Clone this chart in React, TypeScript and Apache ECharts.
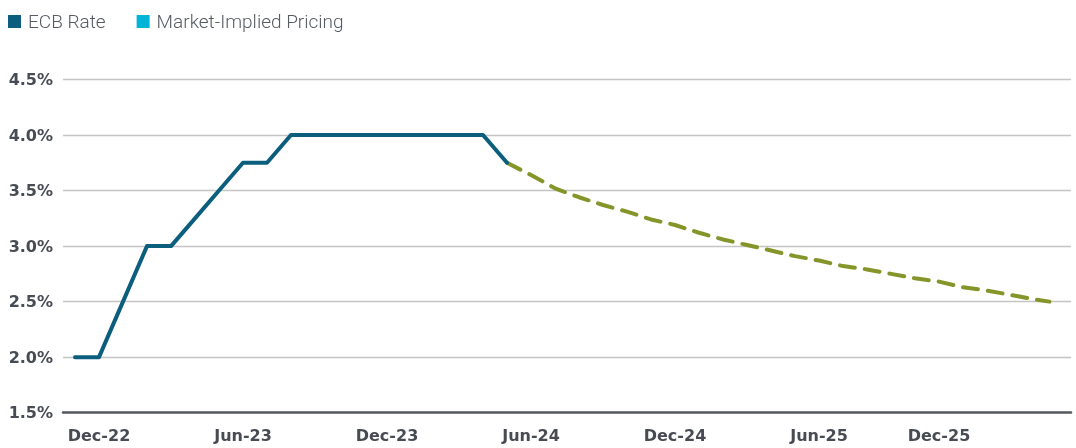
import React, { useEffect, useRef } from "react";
import * as echarts from "echarts";

// Monthly observations, Dec-22 .. Jun-24 (month index 0..18)
const ecbRate = [2.0, 2.0, 2.5, 3.0, 3.0, 3.25, 3.5, 3.75, 3.75, 4.0, 4.0, 4.0, 4.0, 4.0, 4.0, 4.0, 4.0, 4.0, 3.75];

// Market-implied path (months since Dec-22)
const forecastMonths = [18, 19, 20, 21, 22, 23, 24, 25, 26, 27, 28, 29, 30, 31, 32, 33, 34, 35, 36, 37, 38, 39, 40, 40.6];
const forecastRate = [3.75, 3.64, 3.52, 3.44, 3.37, 3.31, 3.24, 3.19, 3.12, 3.06, 3.01, 2.96, 2.91, 2.87, 2.82, 2.79, 2.75, 2.71, 2.68, 2.63, 2.6, 2.56, 2.52, 2.5];

const tickLabels = ["Dec-22", "Jun-23", "Dec-23", "Jun-24", "Dec-24", "Jun-25", "Dec-25"];
const tickMonths = [1, 7, 13, 19, 25, 31, 36];

const seriesNames = ["ECB Rate", "Market-Implied Pricing"];

export default function App() {
  const ref = useRef<HTMLDivElement>(null);
  useEffect(() => {
    if (!ref.current) return;
    const chart = echarts.init(ref.current, null, { renderer: "svg" });
    const labelStyle = {
      fontFamily: "DejaVu Sans",
      fontWeight: "bold" as const,
      fontSize: 16,
      color: "#474c54",
    };
    chart.setOption({
      animation: false,
      legend: {
        left: 8,
        top: 12,
        padding: 0,
        icon: "rect",
        itemWidth: 13,
        itemHeight: 13,
        itemGap: 31,
        textStyle: { fontFamily: "Roboto", fontWeight: 300, fontSize: 19, color: "#565b62", padding: [0, 0, 0, 2] },
        data: [
          { name: seriesNames[0], itemStyle: { color: "#0b5e7c", borderWidth: 0 } },
          { name: seriesNames[1], itemStyle: { color: "#00b4d8", borderWidth: 0 } },
        ],
      },
      grid: { left: 63, right: 5, top: 79.5, bottom: 35.3 },
      xAxis: {
        type: "value",
        min: -0.5,
        max: 41.5,
        axisLine: { show: true, onZero: false, lineStyle: { color: "#555a5f", width: 2.5 } },
        axisTick: { show: false },
        splitLine: { show: false },
        axisLabel: {
          ...labelStyle,
          margin: 15,
          customValues: tickMonths,
          formatter: (v: number) => {
            const i = tickMonths.indexOf(Math.round(v));
            return i >= 0 ? tickLabels[i] : "";
          },
        },
      },
      yAxis: {
        type: "value",
        min: 1.5,
        max: 4.5,
        interval: 0.5,
        axisLine: { show: false },
        axisTick: { show: false },
        splitLine: { lineStyle: { color: "#c4c4c4", width: 1.3 } },
        axisLabel: {
          ...labelStyle,
          margin: 10,
          formatter: (v: number) => v.toFixed(1) + "%",
        },
      },
      series: [
        {
          name: seriesNames[0],
          type: "line",
          data: ecbRate.map((v, i) => [i, v]),
          showSymbol: false,
          symbol: "none",
          itemStyle: { color: "#0b5e7c" },
          lineStyle: { color: "#0b5e7c", width: 4, cap: "round", join: "round" },
          z: 3,
        },
        {
          name: seriesNames[1],
          type: "line",
          data: forecastMonths.map((m, i) => [m, forecastRate[i]]),
          showSymbol: false,
          symbol: "none",
          itemStyle: { color: "#00b4d8" },
          lineStyle: { color: "#86952a", width: 4, type: [15, 10], cap: "round", join: "round" },
          z: 2,
        },
      ],
    });
    return () => chart.dispose();
  }, []);
  return <div ref={ref} style={{ position: "fixed", left: 0, top: 0, width: 1076, height: 448 }} />;
}
